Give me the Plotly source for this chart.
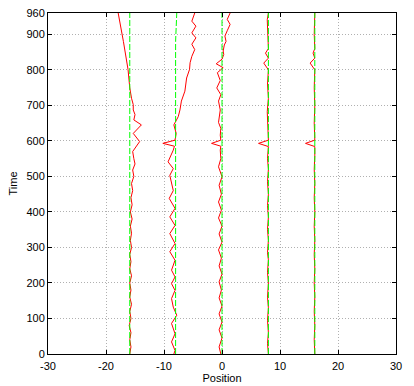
import plotly.graph_objects as go

# red trajectories (time, position)
red1_t = [0, 20, 40, 60, 80, 100, 120, 140, 160, 180, 200, 220, 240, 260, 280, 300,
          320, 340, 360, 380, 400, 420, 440, 460, 480, 500, 518, 535, 550, 570, 598,
          621, 645, 659, 674, 687, 702, 720, 749, 801, 880, 960]
red1_x = [-15.9, -15.7, -15.9, -15.7, -16.0, -15.7, -15.9, -15.6, -15.9, -15.7, -15.9,
          -15.6, -15.9, -15.7, -15.9, -15.6, -15.8, -15.6, -15.8, -15.5, -15.8, -15.5,
          -15.7, -15.4, -15.6, -15.2, -15.4, -15.0, -15.2, -15.4, -14.2, -15.3, -13.9,
          -15.2, -15.0, -15.3, -15.3, -15.6, -15.9, -16.2, -17.0, -17.9]

red2_t = [0, 10, 34, 57, 86, 109, 132, 156, 179, 198, 217, 236, 264, 288, 311, 339,
          362, 386, 410, 438, 460, 485, 503, 522, 541, 574, 585, 593, 602, 621, 645,
          668, 687, 712, 740, 777, 801, 820, 838, 857, 872, 890, 904, 923, 937, 960]
red2_x = [-8.3, -8.1, -8.7, -8.1, -8.7, -7.8, -8.4, -8.7, -8.1, -8.7, -8.1, -8.7,
          -8.1, -9.0, -8.1, -9.0, -8.1, -9.0, -8.1, -9.1, -8.4, -8.7, -9.0, -8.4,
          -9.3, -8.4, -8.2, -10.2, -8.1, -7.9, -8.3, -7.55, -7.25, -7.0, -6.4, -6.1,
          -5.6, -5.5, -5.2, -4.7, -5.2, -4.5, -5.2, -4.5, -5.2, -4.7]

red3_t = [0, 20, 45, 68, 90, 113, 135, 158, 180, 203, 225, 248, 270, 293, 315, 338,
          360, 383, 405, 428, 450, 475, 499, 527, 550, 574, 585, 593, 602, 616, 635,
          652, 687, 712, 730, 749, 770, 792, 806, 817, 830, 843, 853, 870, 880, 895,
          910, 928, 942, 960]
red3_x = [-0.2, -0.5, 0.0, -0.5, 0.0, -0.5, 0.0, -0.5, -0.1, -0.5, 0.0, -0.5, -0.1,
          -0.6, 0.0, -0.5, 0.0, -0.6, -0.1, -0.6, -0.1, -0.5, 0.0, -0.6, -0.2, -0.3,
          -0.2, -1.8, -0.2, -0.3, -0.2, -0.6, -0.3, -0.6, -0.2, -0.9, -0.3, -0.8, 0.2,
          -1.0, 0.0, 0.3, 0.2, 0.4, 0.7, 0.5, 0.9, 1.4, 0.9, 1.4]

red4_t = [0, 30, 60, 95, 130, 160, 200, 230, 265, 285, 320, 351, 385, 418, 450, 485,
          520, 551, 584, 593, 602, 640, 682, 720, 760, 800, 819, 833, 847, 860, 900,
          941, 960]
red4_x = [8.0, 7.85, 8.0, 7.85, 8.0, 7.85, 8.0, 7.85, 8.0, 7.85, 8.0, 7.85, 8.0,
          7.85, 8.0, 7.85, 8.0, 7.85, 8.0, 6.3, 8.0, 7.9, 7.8, 8.0, 7.85, 8.0, 7.2,
          8.0, 7.5, 8.0, 7.9, 7.8, 8.0]

red5_t = [0, 40, 80, 120, 160, 200, 240, 280, 320, 360, 400, 440, 480, 520, 560, 584,
          593, 602, 650, 700, 750, 800, 819, 833, 847, 860, 900, 960]
red5_x = [16.0, 15.9, 16.0, 15.9, 16.0, 15.9, 16.0, 15.9, 16.0, 15.9, 16.0, 15.9,
          16.0, 15.9, 16.0, 16.0, 14.4, 16.0, 15.9, 16.0, 15.9, 16.0, 15.2, 16.0,
          15.7, 16.0, 15.9, 16.0]

# green reference paths
green_t = [0, 300, 600, 880, 960]
green1_x = [-15.9, -15.9, -15.9, -15.8, -15.9]
green2_x = [-8.0, -8.0, -8.1, -8.0, -7.8]
green3_x = [0.0, 0.0, 0.0, 0.0, 0.0]
green4_x = [8.0, 8.0, 8.0, 8.0, 8.0]
green5_x = [16.0, 16.0, 16.0, 16.0, 16.0]

x_ticks = [-30, -20, -10, 0, 10, 20, 30]
y_ticks = [0, 100, 200, 300, 400, 500, 600, 700, 800, 900, 960]

reds = [(red1_x, red1_t), (red2_x, red2_t), (red3_x, red3_t),
        (red4_x, red4_t), (red5_x, red5_t)]
greens = [green1_x, green2_x, green3_x, green4_x, green5_x]

fig = go.Figure()
for x, t in reds:
    fig.add_trace(go.Scatter(x=x, y=t, mode="lines",
                             line=dict(color="#ff0000", width=1), showlegend=False))
for x in greens:
    fig.add_trace(go.Scatter(x=x, y=green_t, mode="lines",
                             line=dict(color="#00ff00", width=1, dash="6px,2px"),
                             showlegend=False))

font = dict(family="Liberation Sans, Arial", size=11, color="black")
axis_common = dict(
    showline=True, linecolor="black", linewidth=1, mirror="ticks",
    ticks="inside", ticklen=4, tickcolor="black",
    showgrid=True, gridcolor="#b0b0b0", griddash="1px,2px", gridwidth=1,
    zeroline=False, automargin=False,
    tickfont=font, title_font=font,
)

fig.update_layout(
    width=414, height=386,
    margin=dict(l=48, r=18, t=13, b=32),
    plot_bgcolor="white", paper_bgcolor="white",
    xaxis=dict(range=[-30, 30], tickvals=x_ticks, ticktext=[str(v) for v in x_ticks],
               ticklabelstandoff=2,
               title=dict(text="Position", standoff=2), **axis_common),
    yaxis=dict(range=[0, 960], tickvals=y_ticks, ticktext=[str(v) for v in y_ticks],
               title=dict(text="Time", standoff=6), **axis_common),
)

# page body has a default 8px margin; drop it so the figure fills the window
fig.write_html("out.html", config={"displayModeBar": False},
               post_script="document.body.style.margin='0';")
